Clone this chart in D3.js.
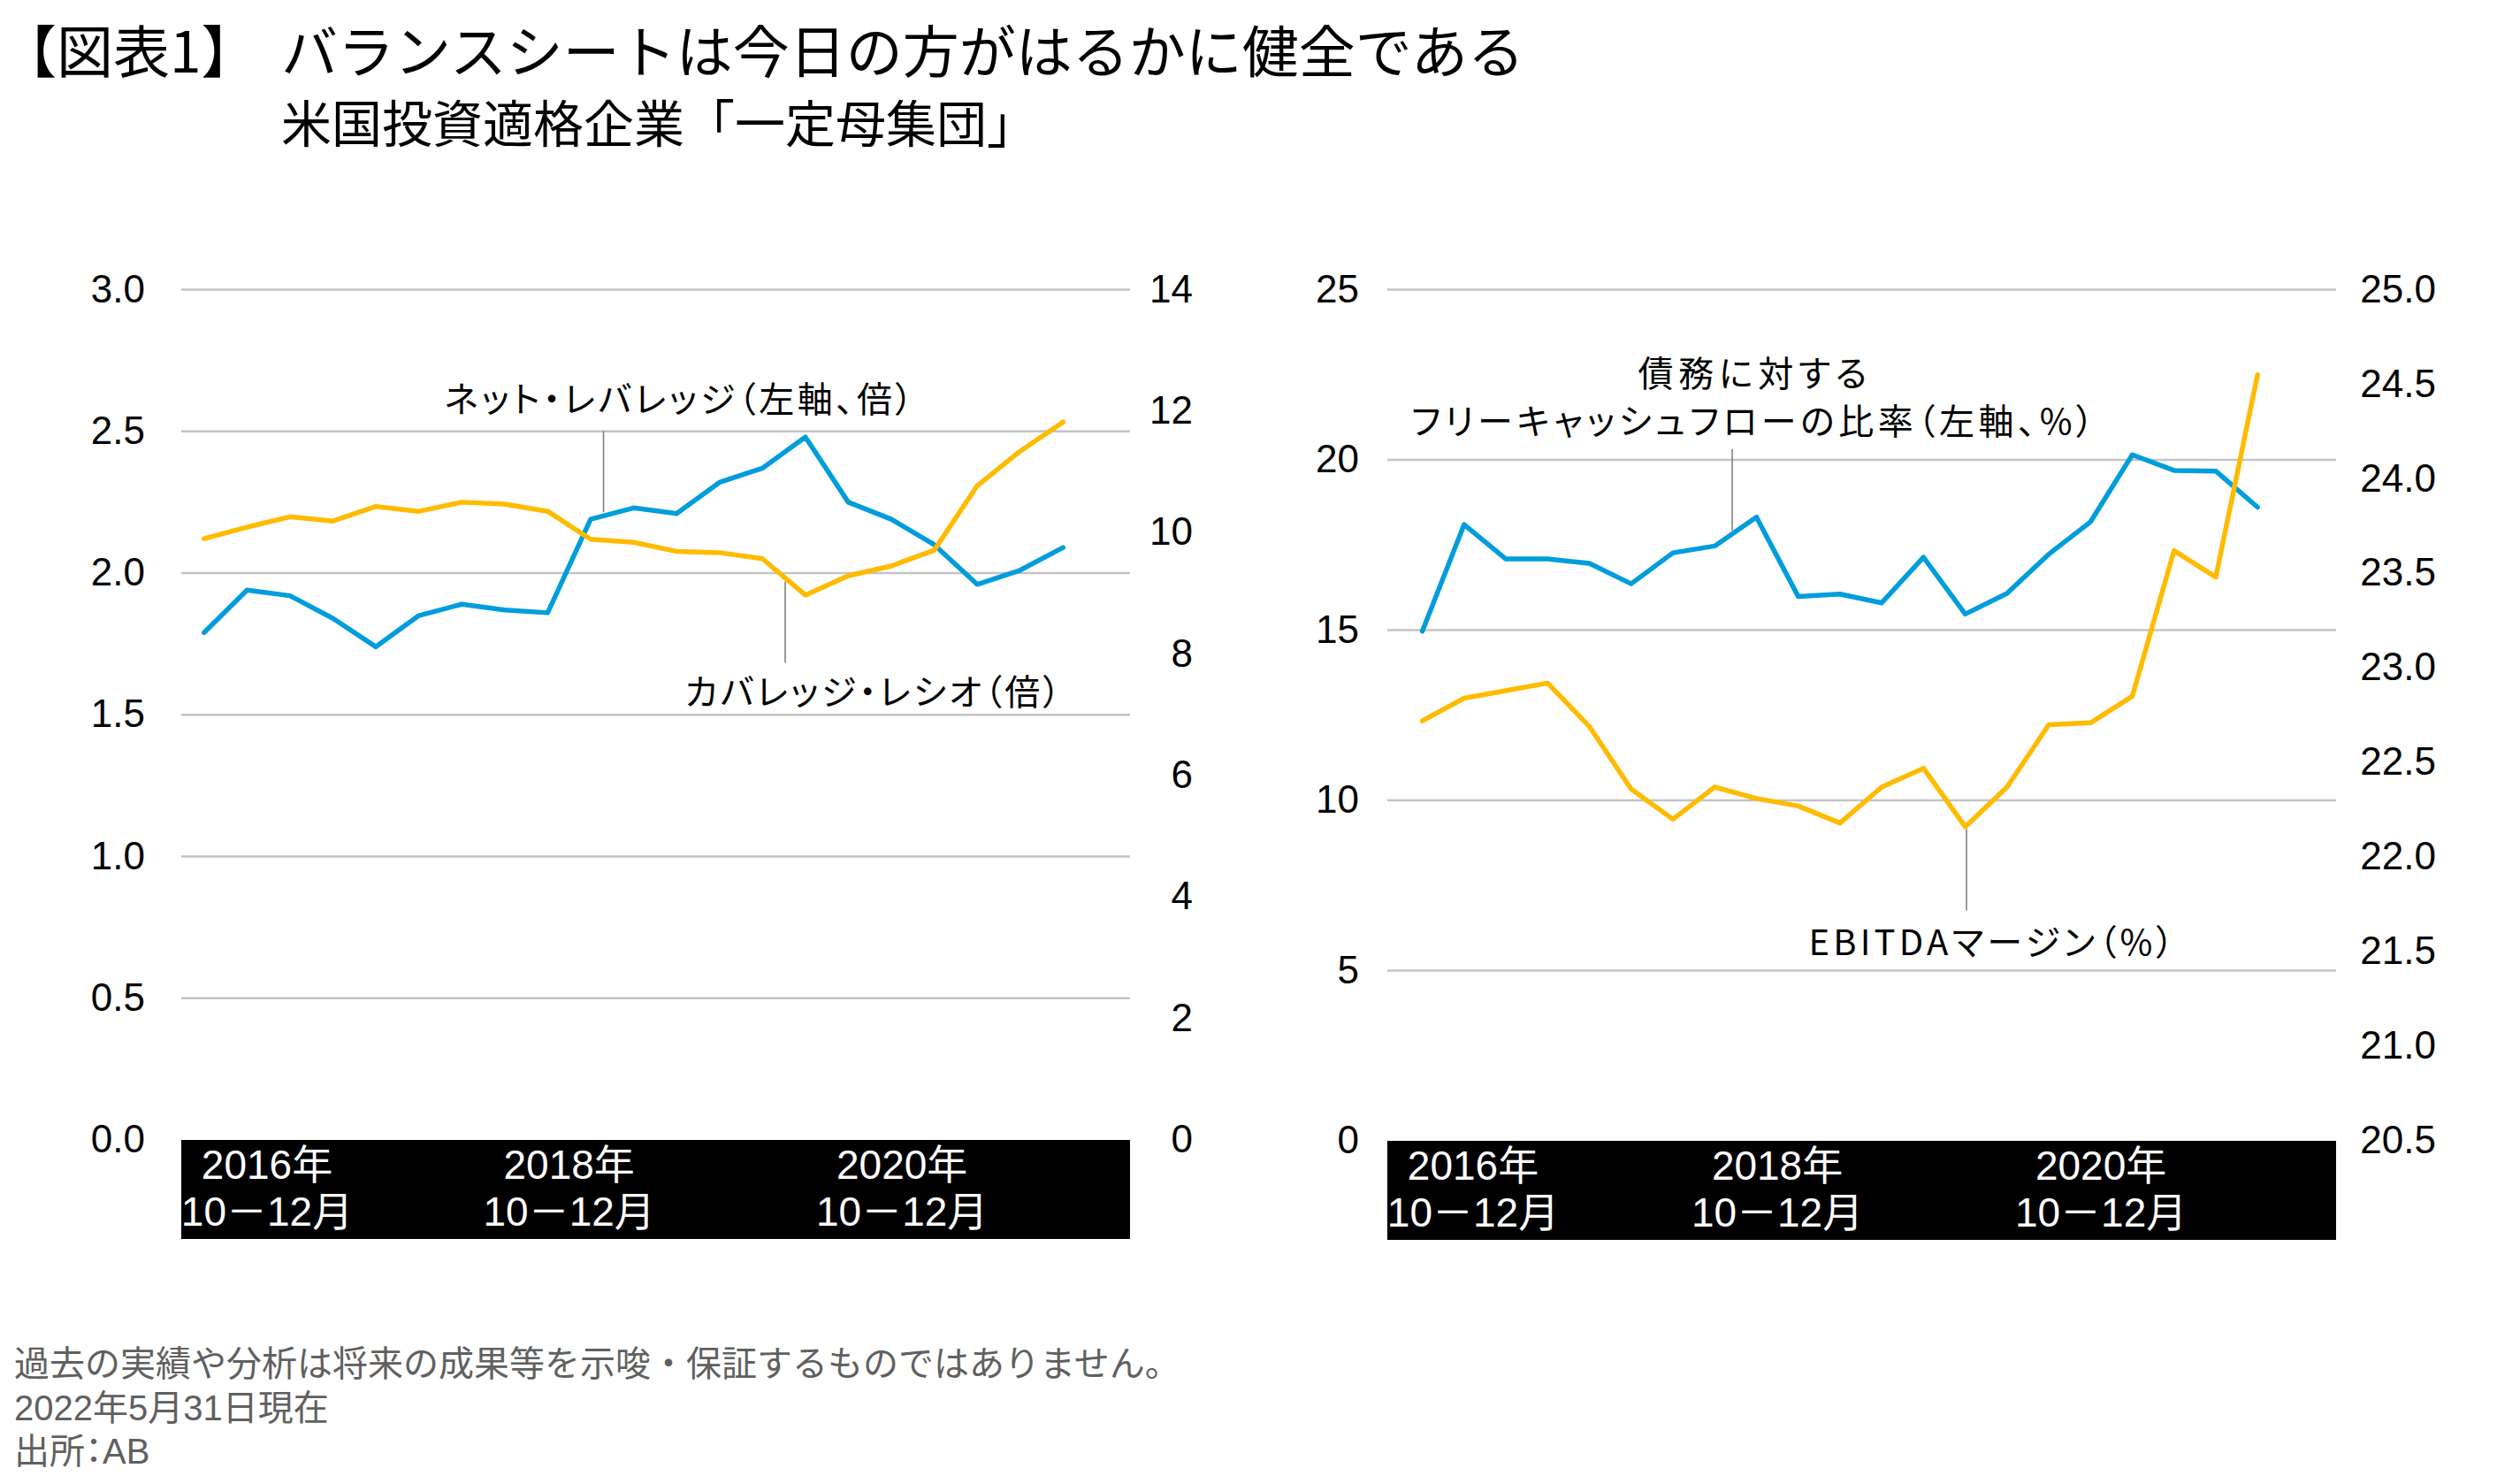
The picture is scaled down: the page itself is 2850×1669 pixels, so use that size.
<!DOCTYPE html>
<html><head><meta charset="utf-8">
<script src="https://cdn.jsdelivr.net/npm/d3@7"></script>
<style>
body{margin:0;background:#fff;}
svg text{font-family:"Noto Sans CJK JP","Liberation Sans",sans-serif;}
.num{font-family:"Liberation Sans","Noto Sans CJK JP",sans-serif;}
.ann{font-feature-settings:"palt";}
</style></head><body>
<svg id="c" width="2850" height="1669"></svg>
<script>
// ---------------- data ----------------
const quarters = ["2016Q4","2017Q1","2017Q2","2017Q3","2017Q4","2018Q1","2018Q2","2018Q3","2018Q4",
  "2019Q1","2019Q2","2019Q3","2019Q4","2020Q1","2020Q2","2020Q3","2020Q4","2021Q1","2021Q2","2021Q3","2021Q4"];
const netLeverage   = [1.79,1.94,1.92,1.84,1.74,1.85,1.89,1.87,1.86,2.19,2.23,2.21,2.32,2.37,2.48,2.25,2.19,2.10,1.96,2.01,2.09];
const coverageRatio = [9.90,10.09,10.26,10.19,10.43,10.35,10.50,10.47,10.35,9.89,9.84,9.69,9.67,9.57,8.97,9.29,9.45,9.71,10.77,11.34,11.82];
const fcfToDebt     = [14.97,18.10,17.09,17.09,16.96,16.36,17.27,17.47,18.32,15.99,16.06,15.80,17.14,15.47,16.08,17.23,18.18,20.15,19.69,19.67,18.61];
const ebitdaMargin  = [22.72,22.84,22.88,22.92,22.69,22.36,22.20,22.37,22.31,22.27,22.18,22.37,22.47,22.16,22.37,22.70,22.71,22.85,23.62,23.48,24.55];

const leftTicksA  = [0,0.5,1.0,1.5,2.0,2.5,3.0];
const rightTicksA = [0,2,4,6,8,10,12,14];
const leftTicksB  = [0,5,10,15,20,25];
const rightTicksB = [20.5,21.0,21.5,22.0,22.5,23.0,23.5,24.0,24.5,25.0];

const xLabelIdx   = [0,8,16];
const xLabelYear  = ["2016年","2018年","2020年"];
const xLabelMonth = "10－12月";

const titleTag  = "【図表1】";
const titleText = "バランスシートは今日の方がはるかに健全である";
const subtitle  = "米国投資適格企業「一定母集団」";
const notes = ["過去の実績や分析は将来の成果等を示唆・保証するものではありません。","2022年5月31日現在","出所：AB"];

const BLUE = "#009DDC", GOLD = "#FFBB00";

// ---------------- drawing ----------------
const svg = d3.select("#c");

svg.append("text").attr("x",0).attr("y",82).attr("font-size",64).attr("font-weight",400).text(titleTag);
svg.append("text").attr("x",318).attr("y",82).attr("font-size",64).attr("font-weight",400).text(titleText);
svg.append("text").attr("x",318).attr("y",161).attr("font-size",57).attr("font-weight",400).text(subtitle);

notes.forEach((t,i)=>{
  svg.append("text").attr("class", i===2 ? "num ann" : "num").attr("x",16).attr("y",1556+i*49.5)
    .attr("font-size",40).attr("fill","#606060").text(t);
});

function drawChart(cfg){
  const g = svg.append("g");
  const yL = d3.scaleLinear().domain(cfg.lDomain).range([cfg.yBottom, cfg.yTop]);
  const yR = d3.scaleLinear().domain(cfg.rDomain).range([cfg.yBottom, cfg.yTop]);
  const x  = d3.scalePoint().domain(quarters).range(cfg.xRange);

  // gridlines (left axis ticks)
  g.selectAll(".grid").data(cfg.lTicks.filter(d=>d>cfg.lDomain[0])).enter().append("line")
    .attr("x1",cfg.x0).attr("x2",cfg.x1).attr("y1",d=>yL(d)).attr("y2",d=>yL(d))
    .attr("stroke","#C4C4C4").attr("stroke-width",2.5);

  // left axis
  const axL = d3.axisLeft(yL).tickValues(cfg.lTicks).tickFormat(d3.format(cfg.lFmt)).tickSize(0).tickPadding(0);
  const gl = g.append("g").attr("transform",`translate(${cfg.lLabelX},0)`).call(axL);
  gl.select(".domain").remove();
  gl.selectAll("text").attr("class","num").attr("font-size",44).attr("fill","#000")
    .attr("font-family",null).attr("dy","0.31em");

  // right axis (labels right aligned)
  const axR = d3.axisRight(yR).tickValues(cfg.rTicks).tickFormat(d3.format(cfg.rFmt)).tickSize(0).tickPadding(0);
  const gr = g.append("g").attr("transform",`translate(${cfg.rLabelX},0)`).call(axR);
  gr.select(".domain").remove();
  gr.selectAll("text").attr("class","num").attr("font-size",44).attr("fill","#000")
    .attr("font-family",null).attr("text-anchor","end").attr("dy","0.31em");

  // category box
  g.append("rect").attr("x",cfg.x0).attr("y",cfg.yBottom).attr("width",cfg.x1-cfg.x0).attr("height",112).attr("fill","#000");
  const labelShift = [0.4, 0.5, 0.25];
  xLabelIdx.forEach((qi,i)=>{
    const cx = Math.max(x(quarters[qi]) + labelShift[i]*x.step(), cfg.x0 + 97);
    g.append("text").attr("class","num").attr("x",cx).attr("y",cfg.yBottom+44).attr("text-anchor","middle")
      .attr("font-size",46).attr("fill","#fff").text(xLabelYear[i]);
    g.append("text").attr("class","num").attr("x",cx).attr("y",cfg.yBottom+97).attr("text-anchor","middle")
      .attr("font-size",46).attr("fill","#fff").text(xLabelMonth);
  });

  // series
  cfg.series.forEach(s=>{
    const sc = s.axis==="L"?yL:yR;
    const line = d3.line().x((d,i)=>x(quarters[i])).y(d=>sc(d));
    g.append("path").datum(s.values).attr("d",line).attr("fill","none")
      .attr("stroke",s.color).attr("stroke-width",5.5).attr("stroke-linejoin","round").attr("stroke-linecap","round");
  });

  // annotations
  cfg.ann.forEach(a=>{
    const s = cfg.series[a.series];
    const sc = s.axis==="L"?yL:yR;
    const i0 = Math.floor(a.fi), f = a.fi - i0;
    const v = s.values[i0]*(1-f) + s.values[i0+1]*f;
    const ax = x(quarters[0]) + a.fi*x.step();
    const ay = sc(v) + (a.dir<0 ? -4 : 4);
    const ey = ay + a.dir*92;
    g.append("line").attr("x1",ax).attr("x2",ax).attr("y1",ay).attr("y2",ey)
      .attr("stroke","#808080").attr("stroke-width",1.6);
    a.lines.forEach((t,k)=>{
      const tt = g.append("text").attr("class","ann").attr("x",ax+a.dx).attr("y",ey + a.dy[k])
        .attr("text-anchor","middle").attr("font-size",40).attr("fill","#000").text(t);
      tt.attr("textLength",a.w[k]).attr("lengthAdjust","spacing");
    });
  });
}

drawChart({
  x0:205, x1:1278, yTop:327.5, yBottom:1289, xRange:[230.8,1202.3],
  lDomain:[0,3], rDomain:[0,14], lTicks:leftTicksA, rTicks:rightTicksA, lFmt:".1f", rFmt:"d",
  lLabelX:164, rLabelX:1349,
  series:[{values:netLeverage,axis:"L",color:BLUE},{values:coverageRatio,axis:"R",color:GOLD}],
  ann:[
    {series:0, fi:9.3, dir:-1, dx:85, dy:[-21], lines:["ネット・レバレッジ（左軸、倍）"], w:[530]},
    {series:1, fi:13.53, dir:1, dx:99, dy:[47], lines:["カバレッジ・レシオ（倍）"], w:[425]}
  ]
});

drawChart({
  x0:1569, x1:2642, yTop:327.5, yBottom:1290, xRange:[1608.6,2553.2],
  lDomain:[0,25], rDomain:[20.5,25], lTicks:leftTicksB, rTicks:rightTicksB, lFmt:"d", rFmt:".1f",
  lLabelX:1537, rLabelX:2755,
  series:[{values:fcfToDebt,axis:"L",color:BLUE},{values:ebitdaMargin,axis:"R",color:GOLD}],
  ann:[
    {series:0, fi:7.42, dir:-1, dx:23, dy:[-71,-17], lines:["債務に対する","フリーキャッシュフローの比率（左軸、%）"], w:[259,772]},
    {series:1, fi:13.03, dir:1, dx:28, dy:[50], lines:["EBITDAマージン（%）"], w:[413]}
  ]
});
</script>
</body></html>
